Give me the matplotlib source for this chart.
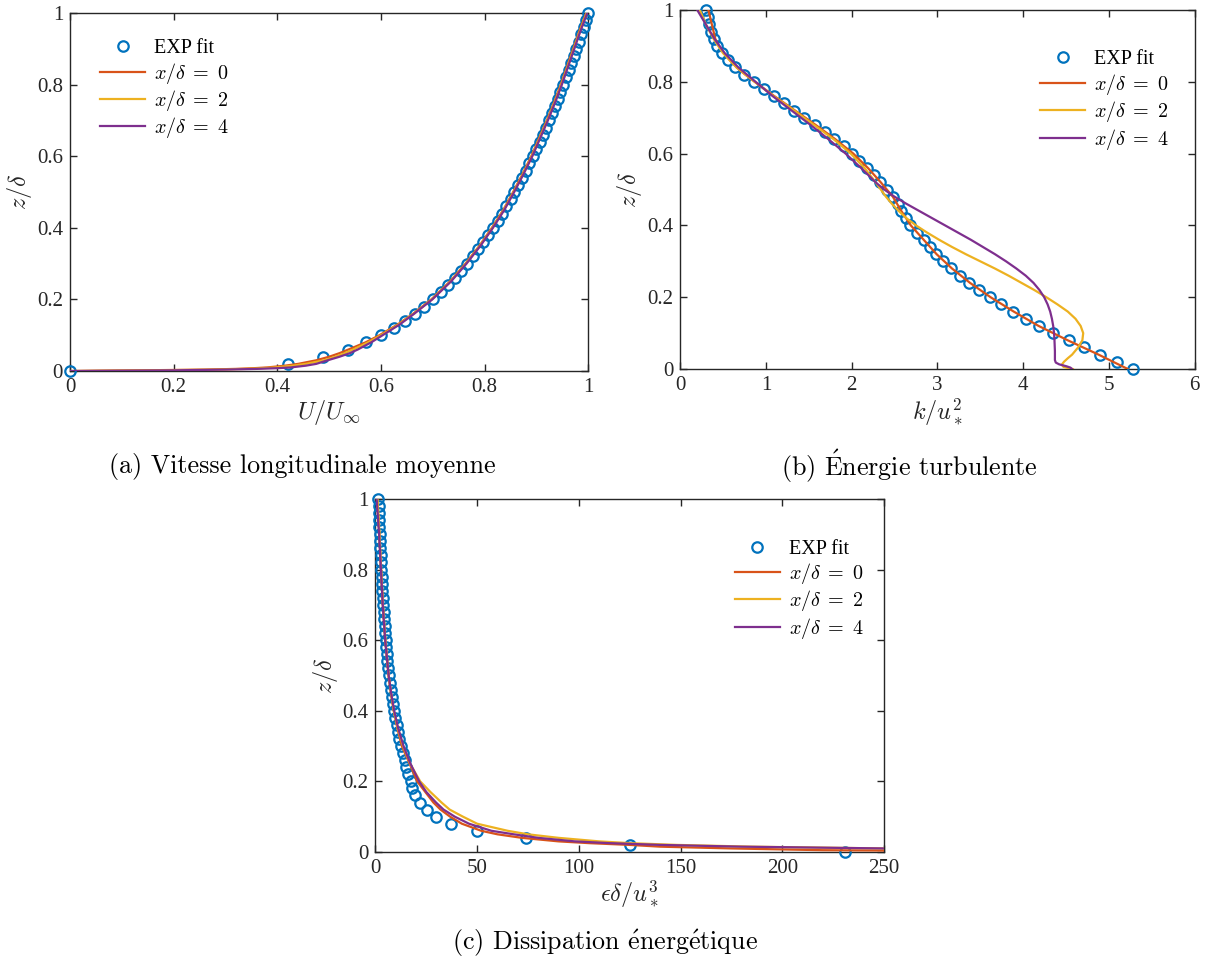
import matplotlib
matplotlib.use('Agg')
import matplotlib.pyplot as plt

plt.rcParams['font.family'] = ['Liberation Serif', 'DejaVu Serif']
plt.rcParams['mathtext.fontset'] = 'cm'

# MATLAB default colours
c_exp = '#0072BD'
c_line = ['#D95319', '#EDB120', '#7E2F8E']
line_labels = [r'$x/\delta\;=\;0$', r'$x/\delta\;=\;2$', r'$x/\delta\;=\;4$']

# ---- (a) mean velocity ----
z_exp = [0.00, 0.02, 0.04, 0.06, 0.08, 0.10, 0.12, 0.14, 0.16, 0.18, 0.20, 0.22, 0.24,
         0.26, 0.28, 0.30, 0.32, 0.34, 0.36, 0.38, 0.40, 0.42, 0.44, 0.46, 0.48, 0.50,
         0.52, 0.54, 0.56, 0.58, 0.60, 0.62, 0.64, 0.66, 0.68, 0.70, 0.72, 0.74, 0.76,
         0.78, 0.80, 0.82, 0.84, 0.86, 0.88, 0.90, 0.92, 0.94, 0.96, 0.98, 1.00]
u_exp = [0.000, 0.420, 0.489, 0.536, 0.571, 0.600, 0.625, 0.646, 0.666, 0.683, 0.700,
         0.715, 0.729, 0.742, 0.754, 0.765, 0.777, 0.787, 0.797, 0.807, 0.816, 0.825,
         0.833, 0.842, 0.850, 0.857, 0.865, 0.872, 0.879, 0.886, 0.893, 0.899, 0.906,
         0.912, 0.918, 0.924, 0.930, 0.935, 0.941, 0.946, 0.952, 0.957, 0.962, 0.967,
         0.972, 0.977, 0.982, 0.986, 0.991, 0.996, 1.000]

z_a = [0, 0.001, 0.002, 0.004, 0.006, 0.008, 0.01, 0.015, 0.02, 0.03, 0.04, 0.05, 0.06,
       0.08, 0.10, 0.13, 0.16, 0.20, 0.25, 0.30, 0.35, 0.40, 0.45, 0.50, 0.55, 0.60,
       0.65, 0.70, 0.75, 0.80, 0.85, 0.90, 0.95, 1.00]
u_a0 = [0, 0.06, 0.14, 0.26, 0.32, 0.355, 0.38, 0.415, 0.44, 0.475, 0.50, 0.52, 0.537,
        0.57, 0.597, 0.632, 0.662, 0.697, 0.733, 0.763, 0.790, 0.814, 0.836, 0.855,
        0.873, 0.890, 0.905, 0.920, 0.934, 0.947, 0.959, 0.971, 0.983, 0.996]
u_a2 = [0, 0.08, 0.17, 0.28, 0.34, 0.37, 0.395, 0.43, 0.455, 0.49, 0.512, 0.53, 0.546,
        0.575, 0.600, 0.634, 0.663, 0.698, 0.734, 0.764, 0.791, 0.815, 0.837, 0.856,
        0.874, 0.891, 0.906, 0.921, 0.935, 0.948, 0.960, 0.972, 0.984, 0.997]
u_a4 = [0, 0.10, 0.20, 0.30, 0.36, 0.40, 0.425, 0.455, 0.475, 0.497, 0.52, 0.54, 0.555,
        0.581, 0.603, 0.636, 0.664, 0.699, 0.735, 0.765, 0.792, 0.816, 0.838, 0.857,
        0.875, 0.892, 0.907, 0.922, 0.936, 0.949, 0.961, 0.973, 0.985, 0.998]

# ---- (b) turbulent kinetic energy ----
k_exp = [5.28, 5.09, 4.90, 4.71, 4.53, 4.35, 4.18, 4.03, 3.88, 3.74, 3.61, 3.48, 3.37,
         3.26, 3.16, 3.06, 2.98, 2.91, 2.84, 2.76, 2.68, 2.63, 2.58, 2.54, 2.48, 2.41,
         2.33, 2.26, 2.18, 2.09, 2.00, 1.91, 1.80, 1.69, 1.57, 1.45, 1.33, 1.21, 1.09,
         0.98, 0.86, 0.75, 0.64, 0.56, 0.49, 0.43, 0.39, 0.36, 0.34, 0.32, 0.30]

z_b0 = [1.0, 0.98, 0.96, 0.94, 0.92, 0.90, 0.88, 0.86, 0.84, 0.82, 0.80, 0.76, 0.72, 0.68,
        0.64, 0.60, 0.56, 0.52, 0.48, 0.44, 0.40, 0.36, 0.32, 0.28, 0.24, 0.20, 0.16,
        0.12, 0.08, 0.04, 0.0]
k_b0 = [0.33, 0.35, 0.37, 0.39, 0.41, 0.45, 0.51, 0.58, 0.66, 0.76, 0.87, 1.10, 1.34,
        1.58, 1.81, 2.02, 2.19, 2.34, 2.48, 2.58, 2.69, 2.84, 2.99, 3.17, 3.38, 3.62,
        3.89, 4.18, 4.52, 4.88, 5.22]
z_b2 = [1.0, 0.96, 0.92, 0.88, 0.84, 0.80, 0.76, 0.72, 0.68, 0.64, 0.60, 0.56, 0.52,
        0.48, 0.46, 0.44, 0.42, 0.40, 0.38, 0.36, 0.34, 0.32, 0.30, 0.28, 0.26, 0.24,
        0.22, 0.20, 0.18, 0.16, 0.14, 0.12, 0.10, 0.08, 0.06, 0.04, 0.03, 0.02, 0.012,
        0.006, 0.003, 0.0]
k_b2 = [0.23, 0.30, 0.39, 0.50, 0.66, 0.87, 1.09, 1.33, 1.56, 1.79, 1.99, 2.15, 2.28,
        2.40, 2.47, 2.55, 2.64, 2.75, 2.88, 3.02, 3.17, 3.33, 3.50, 3.67, 3.83, 3.98,
        4.13, 4.27, 4.40, 4.52, 4.61, 4.67, 4.70, 4.69, 4.64, 4.57, 4.52, 4.475, 4.45,
        4.47, 4.52, 4.58]
z_b4 = [1.0, 0.96, 0.92, 0.88, 0.84, 0.80, 0.76, 0.72, 0.68, 0.64, 0.60, 0.56, 0.52,
        0.50, 0.48, 0.46, 0.44, 0.42, 0.40, 0.38, 0.36, 0.34, 0.32, 0.30, 0.28, 0.26,
        0.24, 0.22, 0.20, 0.18, 0.16, 0.14, 0.12, 0.10, 0.08, 0.05, 0.025, 0.018, 0.013,
        0.008, 0.004, 0.0]
k_b4 = [0.20, 0.30, 0.40, 0.52, 0.68, 0.88, 1.08, 1.30, 1.52, 1.73, 1.93, 2.11, 2.28,
        2.38, 2.50, 2.64, 2.79, 2.94, 3.09, 3.24, 3.39, 3.53, 3.67, 3.80, 3.92, 4.03,
        4.12, 4.19, 4.245, 4.285, 4.315, 4.335, 4.35, 4.36, 4.365, 4.37, 4.37, 4.38,
        4.42, 4.50, 4.55, 4.57]

# ---- (c) dissipation ----
eps_exp = [231, 125, 74, 50, 37, 30, 25.5, 22.0, 19.5, 18.2, 17.3, 16.2, 15.2, 14.3,
           13.3, 12.5, 11.8, 11.1, 10.4, 9.8, 9.2, 8.6, 8.1, 7.5, 7.0, 6.6, 6.2, 5.9,
           5.6, 5.3, 5.0, 4.75, 4.5, 4.25, 4.0, 3.8, 3.6, 3.4, 3.25, 3.05, 2.9, 2.75,
           2.6, 2.4, 2.25, 2.1, 1.95, 1.85, 1.7, 1.6, 1.5]

z_c0 = [1.0, 0.9, 0.8, 0.7, 0.6, 0.5, 0.45, 0.4, 0.35, 0.3, 0.25, 0.2, 0.17, 0.14, 0.12,
        0.10, 0.08, 0.06, 0.05, 0.04, 0.03, 0.025, 0.02, 0.015, 0.01, 0.005, 0.004]
eps_c0 = [0.8, 1.9, 2.7, 3.6, 4.8, 6.4, 7.6, 9.0, 10.8, 13.0, 16.8, 20.5, 24.5, 28.5, 32,
          36.7, 42.5, 52, 60, 72, 90, 105, 125, 140, 175, 220, 250]
z_c2 = [1.0, 0.9, 0.8, 0.7, 0.6, 0.5, 0.45, 0.4, 0.35, 0.3, 0.25, 0.2, 0.17, 0.14, 0.12,
        0.1, 0.08, 0.06, 0.05, 0.04, 0.03, 0.025, 0.02, 0.015, 0.01]
eps_c2 = [1.0, 2.0, 2.8, 3.7, 4.9, 6.5, 7.6, 9.0, 11.0, 13.6, 17.0, 22.0, 27.0, 32.5,
          36.5, 43, 50, 65, 75, 90, 110, 125, 148, 185, 250]
z_c4 = [1.0, 0.9, 0.8, 0.7, 0.6, 0.5, 0.45, 0.4, 0.35, 0.3, 0.25, 0.2, 0.17, 0.14, 0.12,
        0.1, 0.08, 0.06, 0.05, 0.04, 0.03, 0.025, 0.02, 0.015, 0.01]
eps_c4 = [0.6, 1.8, 2.7, 3.6, 4.8, 6.5, 7.7, 9.2, 11.2, 13.8, 17.2, 21.5, 25, 29.8, 33.5,
          39, 46, 57, 68, 80, 98, 115, 140, 180, 250]

y_ticks = [0, 0.2, 0.4, 0.6, 0.8, 1]
y_ticklabels = ['0', '0.2', '0.4', '0.6', '0.8', '1']
xa_ticks = [0, 0.2, 0.4, 0.6, 0.8, 1]
xa_ticklabels = ['0', '0.2', '0.4', '0.6', '0.8', '1']
xb_ticks = [0, 1, 2, 3, 4, 5, 6]
xc_ticks = [0, 50, 100, 150, 200, 250]

fig = plt.figure(figsize=(12.08, 9.63), dpi=100)
ax_a = fig.add_axes([0.058, 0.6147, 0.429, 0.3718])
ax_b = fig.add_axes([0.563, 0.6168, 0.426, 0.3728])
ax_c = fig.add_axes([0.3108, 0.1153, 0.4210, 0.3666])


def style(ax, xlim, xticks, xticklabels, xlabel):
    ax.set_xlim(xlim)
    ax.set_ylim(0, 1)
    ax.set_xticks(xticks)
    ax.set_xticklabels(xticklabels)
    ax.set_yticks(y_ticks)
    ax.set_yticklabels(y_ticklabels)
    ax.tick_params(direction='in', top=True, right=True, length=5, width=1,
                   labelsize=15, colors='#262626', pad=5)
    for s in ax.spines.values():
        s.set_color('#262626')
        s.set_linewidth(1.0)
    ax.set_xlabel(xlabel, fontsize=17.5, color='#262626', labelpad=1)
    ax.set_ylabel(r'$z/\delta$', fontsize=17.5, color='#262626', labelpad=2)


def draw(ax, xe, lines):
    ax.plot(xe, z_exp, 'o', mfc='none', mec=c_exp, mew=1.6, ms=7.5, label='EXP fit',
            clip_on=False, zorder=3)
    for (x, z), c, lab in zip(lines, c_line, line_labels):
        ax.plot(x, z, '-', color=c, lw=1.6, label=lab, zorder=4)


def legend(ax, loc, anchor):
    ax.legend(loc=loc, bbox_to_anchor=anchor, frameon=False, fontsize=14.5,
              handlelength=2.25, handletextpad=0.45, labelspacing=0.12, borderpad=0,
              borderaxespad=0, numpoints=1)


draw(ax_a, u_exp, [(u_a0, z_a), (u_a2, z_a), (u_a4, z_a)])
style(ax_a, (0, 1), xa_ticks, xa_ticklabels, r'$U/U_\infty$')
legend(ax_a, 'upper left', (0.058, 0.927))

draw(ax_b, k_exp, [(k_b0, z_b0), (k_b2, z_b2), (k_b4, z_b4)])
style(ax_b, (0, 6), xb_ticks, [str(t) for t in xb_ticks], r'$k/u_*^2$')
legend(ax_b, 'upper right', (0.95, 0.888))

draw(ax_c, eps_exp, [(eps_c0, z_c0), (eps_c2, z_c2), (eps_c4, z_c4)])
style(ax_c, (0, 250), xc_ticks, [str(t) for t in xc_ticks], r'$\epsilon\delta/u_*^3$')
legend(ax_c, 'upper right', (0.96, 0.885))

cap_font = ['cmr10', 'DejaVu Serif']
fig.text(0.25, 0.516, '(a) Vitesse longitudinale moyenne', ha='center', va='center',
         fontsize=18.7, family=cap_font)
fig.text(0.753, 0.516, r'(b) $\acute{\mathrm{E}}$nergie turbulente', ha='center',
         va='center', fontsize=18.7, family=cap_font)
fig.text(0.5008, 0.0208, r'(c) Dissipation $\acute{\mathrm{e}}$nerg$\acute{\mathrm{e}}$tique',
         ha='center', va='center', fontsize=18.7, family=cap_font)

fig.savefig('out.png', dpi=100)
